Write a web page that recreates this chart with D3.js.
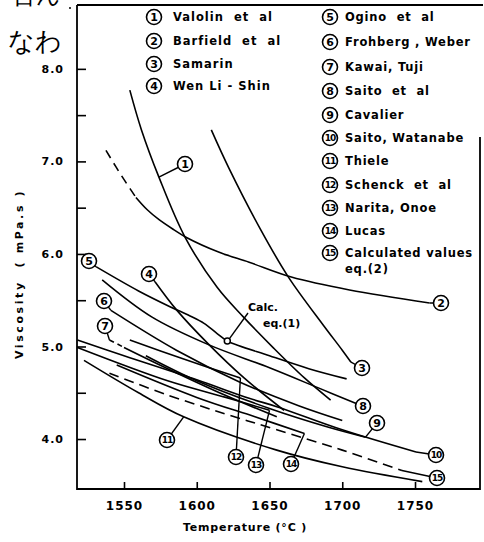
<!DOCTYPE html>
<html><head><meta charset="utf-8">
<script src="https://cdn.jsdelivr.net/npm/d3@7"></script>
<style>
body{margin:0;background:#fff;}
svg text{font-family:"DejaVu Sans",sans-serif;}
</style></head>
<body><svg id="c" width="484" height="542"></svg>
<script>
// ---------- data (temperature °C, viscosity mPa.s) ----------
const xTicks=[1550,1600,1650,1700,1750];
const yTicks=[4.0,5.0,6.0,7.0,8.0];
const yMinor=[4.5,5.5,6.5,7.5];
const legendLeft=["Valolin  et  al","Barfield  et  al","Samarin","Wen Li - Shin"];
const legendRight=["Ogino  et  al","Frohberg , Weber","Kawai, Tuji","Saito  et  al","Cavalier","Saito, Watanabe","Thiele","Schenck  et  al","Narita, Onoe","Lucas","Calculated values"];
const c1=[[1554,7.77],[1562,7.34],[1574,6.83],[1592,6.18],[1614,5.64],[1632,5.32],[1653,4.98],[1674,4.66],[1692,4.42]];
const c2dash=[[1537.6,7.12],[1544.5,6.94],[1551.4,6.77],[1558.2,6.61]];
const c2=[[1558.2,6.61],[1565.8,6.48],[1574.1,6.37],[1584.4,6.26],[1592.6,6.18],[1615,6.02],[1636,5.91],[1665,5.75],[1705,5.61],[1760,5.47]];
const c3=[[1610,7.34],[1622,6.93],[1644,6.26],[1663,5.75],[1687,5.23],[1700,4.96],[1706,4.83]];
const c4=[[1571.3,5.70],[1586.4,5.39],[1608.4,5.02],[1632.5,4.66],[1660,4.31]];
const c5=[[1531,5.86],[1560,5.60],[1581.6,5.43],[1595.4,5.33],[1605,5.25],[1614,5.14],[1621,5.06],[1650,4.90],[1677,4.76],[1703,4.65]];
const c6=[[1541,5.39],[1586,4.96],[1629,4.62],[1670,4.36],[1700,4.20]];
const c7dash=[[1540,5.07],[1550,4.99]];
const c7=[[1550,4.99],[1580,4.76],[1620,4.47],[1655,4.24]];
const c8=[[1535,5.72],[1569,5.32],[1608,5.02],[1650,4.77],[1684,4.55],[1710,4.38]];
const c9=[[1565,4.90],[1600,4.63],[1650,4.33],[1690,4.13],[1716,4.02]];
const c10=[[1518,5.07],[1550,4.90],[1600,4.64],[1636,4.44],[1655,4.35],[1700,4.10],[1750.7,3.86]];
const c11=[[1522.5,4.85],[1560,4.50],[1591,4.24],[1655,3.88],[1700,3.70],[1755,3.54]];
const c12=[[1554,5.07],[1590,4.87],[1630,4.66]];
const c13=[[1518,4.99],[1580,4.63],[1620,4.45],[1650,4.31]];
const c14=[[1545,4.80],[1600,4.45],[1640,4.24],[1674,4.06]];
const c15=[[1540,4.71],[1581,4.47],[1620,4.27],[1655,4.10],[1700,3.88],[1741,3.66]];
const calcPoint=[1621,5.06];

const svg=d3.select("#c");
const x=d3.scaleLinear().domain([1517.7,1792.6]).range([77,477]);
const y=d3.scaleLinear().domain([3.46,8.69]).range([489,5]);
const line=d3.line().x(d=>x(d[0])).y(d=>y(d[1])).curve(d3.curveCatmullRom.alpha(0.5));

// Japanese handwritten fragment
svg.append("text").attr("x",12).attr("y",3).attr("font-size",24).attr("font-family","Noto Sans CJK JP").text("合ん");
svg.append("text").attr("x",8).attr("y",50).attr("font-size",26).attr("font-family","Noto Sans CJK JP").text("なわ");
svg.append("circle").attr("cx",70).attr("cy",8).attr("r",1).attr("fill","#000");

// frame
const g=svg.append("g").attr("fill","none").attr("stroke","#000").attr("stroke-width",1.8);
g.append("path").attr("d",`M${x.range()[0]},${y.range()[1]}V${y.range()[0]}H${x.range()[1]+3}V137`);
g.append("path").attr("d",`M${x.range()[0]},${y.range()[1]}H${x.range()[1]+6}`);

// axes with inward ticks
const ax=svg.append("g").attr("transform",`translate(0,${y.range()[0]})`)
 .call(d3.axisBottom(x).tickValues(xTicks).tickSizeInner(-7).tickSizeOuter(0).tickFormat(d3.format("d")).tickPadding(12));
ax.select(".domain").remove();
ax.selectAll("line").attr("stroke-width",1.6);
ax.selectAll("text").attr("font-size",12).attr("font-weight","bold").attr("letter-spacing",1);
const ay=svg.append("g").attr("transform",`translate(${x.range()[0]},0)`)
 .call(d3.axisLeft(y).tickValues(yTicks.concat(yMinor)).tickSizeInner(-9).tickSizeOuter(0).tickFormat(d=>yTicks.includes(d)?d3.format(".1f")(d):"").tickPadding(13));
ay.select(".domain").remove();
ay.selectAll("line").attr("stroke-width",1.6);
ay.selectAll("text").attr("font-size",11).attr("font-weight","bold").attr("letter-spacing",1);

svg.append("text").attr("x",245).attr("y",531).attr("text-anchor","middle").attr("font-size",11).attr("font-weight","bold").attr("letter-spacing",0.8).text("Temperature (°C )");
svg.append("text").attr("transform","translate(23,274) rotate(-90)").attr("text-anchor","middle").attr("font-size",11).attr("font-weight","bold").attr("letter-spacing",2.6).attr("xml:space","preserve").text("Viscosity  ( mPa.s )");

// curves
const solid=[c1,c2,c3,c4,c5,c6,c7,c8,c9,c10,c11,c12,c13,c14];
const cg=svg.append("g").attr("fill","none").attr("stroke","#000").attr("stroke-width",1.6);
solid.forEach(c=>cg.append("path").attr("d",line(c)));
cg.append("path").attr("d",line(c2dash)).attr("stroke-dasharray","9,6");
cg.append("path").attr("d",line(c7dash)).attr("stroke-dasharray","5,4");
cg.append("path").attr("d",line(c15)).attr("stroke-dasharray","10,6");

// calc point
svg.append("line").attr("x1",x(calcPoint[0])+2).attr("y1",y(calcPoint[1])-2).attr("x2",248).attr("y2",313).attr("stroke","#000").attr("stroke-width",1.4);
svg.append("circle").attr("cx",x(calcPoint[0])).attr("cy",y(calcPoint[1])).attr("r",3).attr("fill","#fff").attr("stroke","#000").attr("stroke-width",1.5);
svg.append("text").attr("x",248).attr("y",311).attr("font-size",11).attr("font-weight","bold").text("Calc.");
svg.append("text").attr("x",263).attr("y",327).attr("font-size",11).attr("font-weight","bold").text("eq.(1)");

function badge(cx,cy,n){
  svg.append("circle").attr("cx",cx).attr("cy",cy).attr("r",7.5).attr("fill","#fff").attr("stroke","#000").attr("stroke-width",1.6);
  svg.append("text").attr("x",cx).attr("y",cy+0.5).attr("text-anchor","middle").attr("dominant-baseline","middle").attr("font-size",n>9?9:11).attr("font-weight","bold").attr("letter-spacing",n>9?-1:0).text(n);
}
// legend
const lyL=[17,41,64,86];
legendLeft.forEach((t,i)=>{badge(154,lyL[i],i+1);svg.append("text").attr("x",173).attr("y",lyL[i]+4).attr("font-size",11.5).attr("font-weight","bold").attr("letter-spacing",1).attr("xml:space","preserve").text(t);});
const lyR=[17,42,67,91,115,138,161,185,208,231,253];
legendRight.forEach((t,i)=>{badge(330,lyR[i],i+5);svg.append("text").attr("x",345).attr("y",lyR[i]+4).attr("font-size",11.5).attr("font-weight","bold").attr("letter-spacing",0.8).attr("xml:space","preserve").text(t);});
svg.append("text").attr("x",345).attr("y",273).attr("font-size",11.5).attr("font-weight","bold").attr("letter-spacing",0.8).text("eq.(2)");

// curve labels with leaders
const tags=[
 {n:1,at:c1[2],p:[185,164]},
 {n:2,at:c2[c2.length-1],p:[441,303]},
 {n:3,at:c3[c3.length-1],p:[362,368]},
 {n:4,at:c4[0],p:[149,274]},
 {n:5,at:c5[0],p:[89,261]},
 {n:6,at:c6[0],p:[104,301]},
 {n:7,at:c7dash[0],p:[105,326]},
 {n:8,at:c8[c8.length-1],p:[363,406]},
 {n:9,at:c9[c9.length-1],p:[377,423]},
 {n:10,at:c10[c10.length-1],p:[436,455]},
 {n:11,at:[1591,4.24],p:[167,440]},
 {n:12,at:c12[c12.length-1],p:[236,457]},
 {n:13,at:c13[c13.length-1],p:[256,465]},
 {n:14,at:c14[c14.length-1],p:[291,464]},
 {n:15,at:c15[c15.length-1],p:[437,478]}
];
tags.forEach(t=>{
  svg.append("line").attr("x1",x(t.at[0])).attr("y1",y(t.at[1])).attr("x2",t.p[0]).attr("y2",t.p[1]).attr("stroke","#000").attr("stroke-width",1.4);
  badge(t.p[0],t.p[1],t.n);
});
</script></body></html>
